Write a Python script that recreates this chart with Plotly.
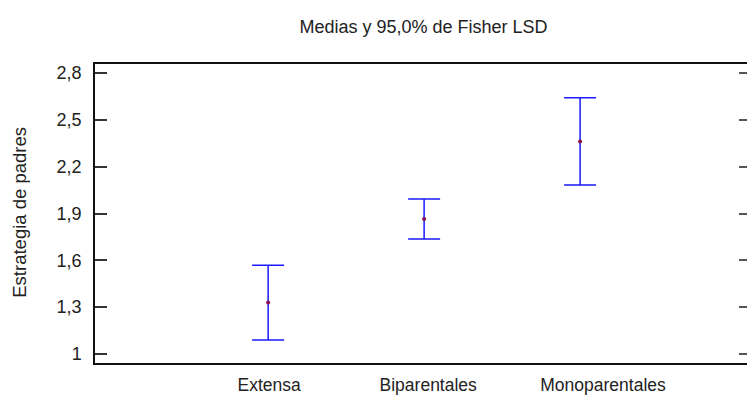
import plotly.graph_objects as go

# Group means of "Estrategia de padres" with Fisher LSD 95% half-widths
categories = ["Extensa", "Biparentales", "Monoparentales"]
group_pos = [0, 1, 2]
means = [1.329, 1.865, 2.362]
lsd_half = [0.240, 0.128, 0.280]

y_ticks = [1.0, 1.3, 1.6, 1.9, 2.2, 2.5, 2.8]
y_tick_text = ["1", "1,3", "1,6", "1,9", "2,2", "2,5", "2,8"]

FONT = "Liberation Sans, Arial, sans-serif"
# category labels sit slightly right of their group, as in the original layout
label_shift = [0.006, 0.026, 0.147]
label_pos = [p + s for p, s in zip(group_pos, label_shift)]

fig = go.Figure()
fig.add_trace(go.Scatter(
    x=group_pos,
    y=means,
    mode="markers",
    marker=dict(symbol="circle", size=4, color="#8a1050"),
    error_y=dict(type="data", array=lsd_half, visible=True,
                 color="#1a1aff", thickness=1.5, width=16),
    showlegend=False,
))
# invisible trace to carry the mirrored right-hand tick marks
fig.add_trace(go.Scatter(x=group_pos, y=means, yaxis="y2", mode="none",
                         showlegend=False, hoverinfo="skip"))

fig.update_layout(
    width=747, height=397,
    margin=dict(l=95, r=0, t=64, b=34),
    paper_bgcolor="white", plot_bgcolor="white",
    font=dict(family=FONT, size=18, color="#222222"),
    title=dict(text="Medias y 95,0% de Fisher LSD", x=0.567, xanchor="center",
               y=0.932, yanchor="middle", font=dict(size=18, color="#222222")),
    xaxis=dict(
        range=[-1.11, 3.07], tickvals=label_pos, ticktext=categories,
        tickfont=dict(size=17.5), automargin=False,
        showline=True, linecolor="#111111", linewidth=1.5, mirror=True,
        ticks="", showgrid=False, zeroline=False,
        ticklabelstandoff=5,
    ),
    yaxis=dict(
        range=[0.942, 2.858], tickvals=y_ticks, ticktext=y_tick_text,
        automargin=False,
        showline=True, linecolor="#111111", linewidth=1.5,
        ticks="inside", ticklen=12, tickwidth=1.5, tickcolor="#333333",
        showgrid=False, zeroline=False, ticklabelstandoff=8,
    ),
    yaxis2=dict(
        overlaying="y", side="right", matches="y", range=[0.942, 2.858],
        tickvals=y_ticks, showticklabels=False, showline=False,
        automargin=False,
        ticks="inside", ticklen=8, tickwidth=1.5, tickcolor="#555555",
        showgrid=False, zeroline=False,
    ),
    annotations=[dict(
        text="Estrategia de padres", xref="paper", yref="paper",
        x=-0.117, y=0.505, xanchor="center", yanchor="middle",
        textangle=-90, showarrow=False, font=dict(size=18.5, color="#222222"),
    )],
)

fig.write_html("out.html")
